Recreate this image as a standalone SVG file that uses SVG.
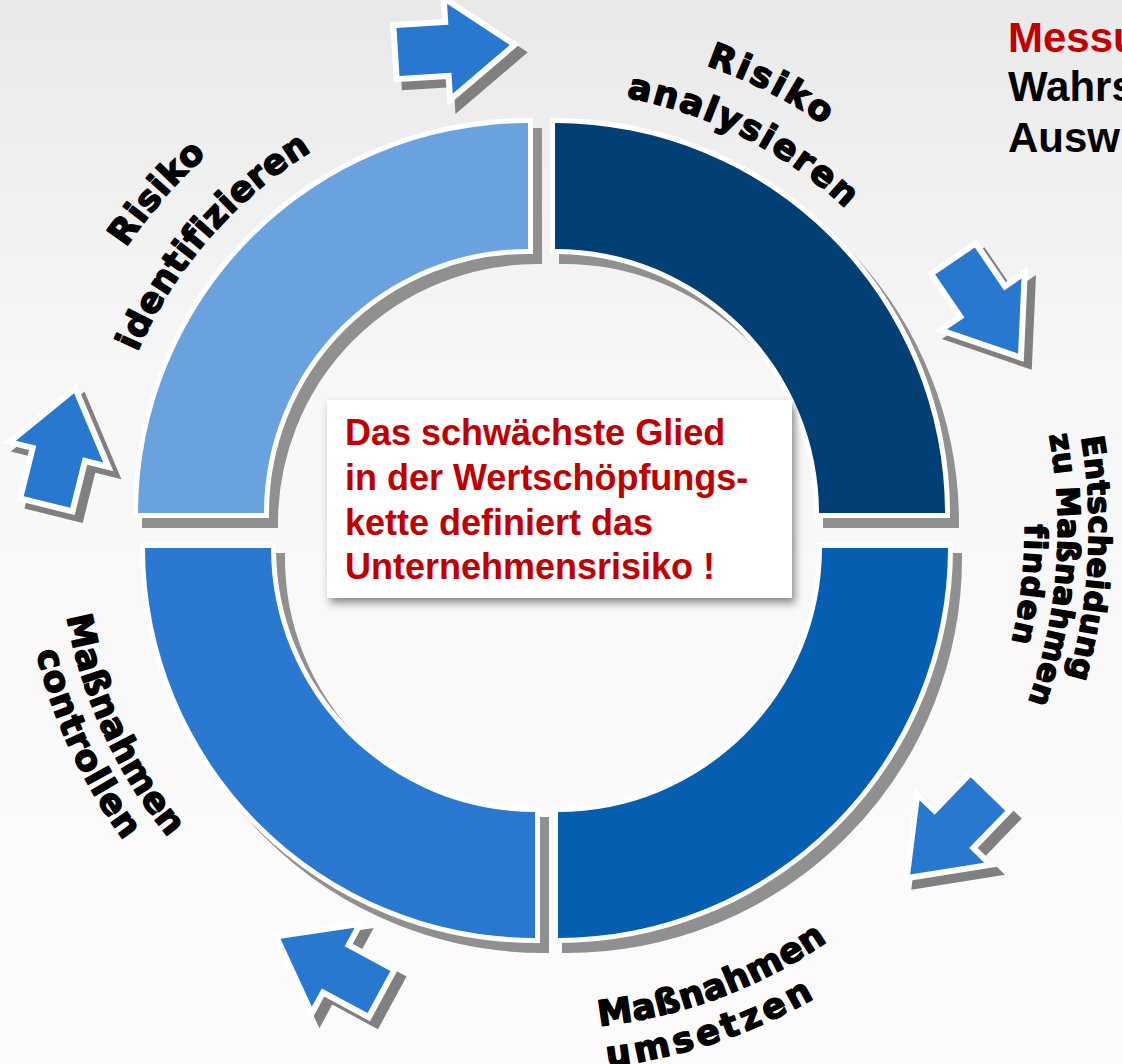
<svg xmlns="http://www.w3.org/2000/svg" xmlns:xlink="http://www.w3.org/1999/xlink" width="1122" height="1064" viewBox="0 0 1122 1064">
  <defs>
    <linearGradient id="bg" x1="0" y1="0" x2="0" y2="1">
      <stop offset="0" stop-color="#e9e9e9"/>
      <stop offset="0.35" stop-color="#f8f7f7"/>
      <stop offset="1" stop-color="#fdfbfb"/>
    </linearGradient>
    <filter id="boxShadow" x="-10%" y="-10%" width="125%" height="130%">
      <feDropShadow dx="3" dy="5" stdDeviation="4" flood-color="#000" flood-opacity="0.45"/>
    </filter>
    <!-- block arrow pointing along +x, tail centre at origin -->
    <path id="arw" d="M0,-24 L52,-24 L52,-45 L112,0 L52,45 L52,24 L0,24 Z"/>
    <!-- ring quadrants -->
    <path id="q1" d="M528,123 A390,390 0 0 0 138,513 L264,513 A264,264 0 0 1 528,249 Z"/>
    <path id="q2" d="M555,123 A390,390 0 0 1 945,513 L819,513 A264,264 0 0 0 555,249 Z"/>
    <path id="q3" d="M948,548 A390,390 0 0 1 558,938 L558,812 A264,264 0 0 0 822,548 Z"/>
    <path id="q4" d="M535,938 A390,390 0 0 1 145,548 L271,548 A264,264 0 0 0 535,812 Z"/>
    <!-- label baselines (arcs round the ring centre) -->
    <path id="tA1" d="M152.5,847.8 A505,505 0 0 1 805.1,97.1"/>
    <path id="tA2" d="M199.2,810.0 A445,445 0 0 1 774.2,148.6"/>
    <path id="tB1" d="M152.1,233.9 A492,492 0 0 1 1015.5,673.8"/>
    <path id="tB2" d="M193.6,265.2 A440,440 0 0 1 965.8,658.6"/>
    <path id="tC1" d="M667.4,-0.1 A544,544 0 0 1 611.3,1069.9"/>
    <path id="tC2" d="M673.4,33.3 A513,513 0 0 1 594.2,1040.6"/>
    <path id="tC3" d="M681.3,69.8 A480,480 0 0 1 574.3,1009.1"/>
    <path id="tD1" d="M114.6,782.5 A499,499 0 0 0 1035.8,439.9"/>
    <path id="tD2" d="M70.4,787.7 A540,540 0 0 0 1079.1,450.2"/>
    <path id="tE1" d="M267.8,130.8 A486,486 0 0 0 669.1,999.9"/>
    <path id="tE2" d="M245.0,101.6 A523,523 0 0 0 680.4,1035.2"/>
  </defs>
  <style>
    .seg { stroke: #ffffff; stroke-width: 10; paint-order: stroke; stroke-linejoin: miter; }
    .segShadow { fill: #909090; stroke: #909090; stroke-width: 10; }
    .arrow { fill: #2878d0; stroke: #ffffff; stroke-width: 12; paint-order: stroke; stroke-linejoin: miter; }
    .arrowShadow { fill: #808080; stroke: #808080; stroke-width: 12; }
    .lbl { font-family: "DejaVu Sans", sans-serif; font-weight: bold; font-size: 35px; fill: #000000; stroke: #000000; stroke-width: 1.5; stroke-linejoin: round; }
    .lblS { font-size: 31px; }
    .core { font-family: "Liberation Sans", Arial, sans-serif; font-weight: bold; font-size: 36px; fill: #c00000; }
    .note { font-family: "Liberation Sans", Arial, sans-serif; font-weight: bold; font-size: 42px; }
  </style>

  <rect x="0" y="0" width="1122" height="1064" fill="url(#bg)"/>

  <!-- ring -->
  <g id="ring">
    <g id="q-identify">
      <use href="#q1" class="segShadow" transform="translate(9,10)"/>
      <use href="#q1" class="seg" fill="#69a2df"/>
    </g>
    <g id="q-analyse">
      <use href="#q2" class="segShadow" transform="translate(9,10)"/>
      <use href="#q2" class="seg" fill="#013f74"/>
    </g>
    <g id="q-implement">
      <use href="#q3" class="segShadow" transform="translate(9,10)"/>
      <use href="#q3" class="seg" fill="#055eb0"/>
    </g>
    <g id="q-control">
      <use href="#q4" class="segShadow" transform="translate(9,10)"/>
      <use href="#q4" class="seg" fill="#2a78d0"/>
    </g>
  </g>

  <!-- cycle arrows -->
  <g id="connectors">
    <g id="arrow-1" transform="translate(398,52) rotate(-3.6)">
      <use href="#arw" class="arrowShadow" transform="rotate(3.6) translate(8,8) rotate(-3.6)"/>
      <use href="#arw" class="arrow"/>
    </g>
    <g id="arrow-2" transform="translate(955,261) rotate(55.7)">
      <use href="#arw" class="arrowShadow" transform="rotate(-55.7) translate(8,8) rotate(55.7)"/>
      <use href="#arw" class="arrow"/>
    </g>
    <g id="arrow-3" transform="translate(988,794) rotate(134)">
      <use href="#arw" class="arrowShadow" transform="rotate(-134) translate(8,8) rotate(134)"/>
      <use href="#arw" class="arrow"/>
    </g>
    <g id="arrow-4" transform="translate(379,992) rotate(208.4)">
      <use href="#arw" class="arrowShadow" transform="rotate(-208.4) translate(8,8) rotate(208.4)"/>
      <use href="#arw" class="arrow"/>
    </g>
    <g id="arrow-5" transform="translate(47,502) rotate(-76)">
      <use href="#arw" class="arrowShadow" transform="rotate(76) translate(8,8) rotate(-76)"/>
      <use href="#arw" class="arrow"/>
    </g>
  </g>

  <!-- step labels -->
  <g id="label-identify" class="lbl">
    <text letter-spacing="1"><textPath href="#tA1" startOffset="50%" text-anchor="middle">Risiko</textPath></text>
    <text letter-spacing="0.5"><textPath href="#tA2" startOffset="50%" text-anchor="middle">identifizieren</textPath></text>
  </g>
  <g id="label-analyse" class="lbl">
    <text letter-spacing="3"><textPath href="#tB1" startOffset="50%" text-anchor="middle">Risiko</textPath></text>
    <text letter-spacing="2"><textPath href="#tB2" startOffset="50%" text-anchor="middle">analysieren</textPath></text>
  </g>
  <g id="label-decide" class="lbl lblS">
    <text letter-spacing="0.5"><textPath href="#tC1" startOffset="50%" text-anchor="middle">Entscheidung</textPath></text>
    <text letter-spacing="0.5"><textPath href="#tC2" startOffset="50%" text-anchor="middle">zu Maßnahmen</textPath></text>
    <text letter-spacing="1.5"><textPath href="#tC3" startOffset="50%" text-anchor="middle">finden</textPath></text>
  </g>
  <g id="label-implement" class="lbl">
    <text letter-spacing="0.5"><textPath href="#tD1" startOffset="50%" text-anchor="middle">Maßnahmen</textPath></text>
    <text letter-spacing="4"><textPath href="#tD2" startOffset="50%" text-anchor="middle">umsetzen</textPath></text>
  </g>
  <g id="label-control" class="lbl">
    <text letter-spacing="0.5"><textPath href="#tE1" startOffset="50%" text-anchor="middle">Maßnahmen</textPath></text>
    <text letter-spacing="1"><textPath href="#tE2" startOffset="50%" text-anchor="middle">controllen</textPath></text>
  </g>

  <!-- centre statement -->
  <g id="core-box">
    <rect x="327" y="400" width="465" height="198" fill="#ffffff" filter="url(#boxShadow)"/>
    <text class="core" x="345" y="445">Das schwächste Glied</text>
    <text class="core" x="345" y="490">in der Wertschöpfungs-</text>
    <text class="core" x="345" y="535">kette definiert das</text>
    <text class="core" x="345" y="579">Unternehmensrisiko !</text>
  </g>

  <!-- side note at the top right -->
  <g id="side-note" class="note">
    <text x="1008" y="52" fill="#c00000">Messu</text>
    <text x="1008" y="101" fill="#000000">Wahrs</text>
    <text x="1008" y="152" fill="#000000">Ausw</text>
  </g>
</svg>
